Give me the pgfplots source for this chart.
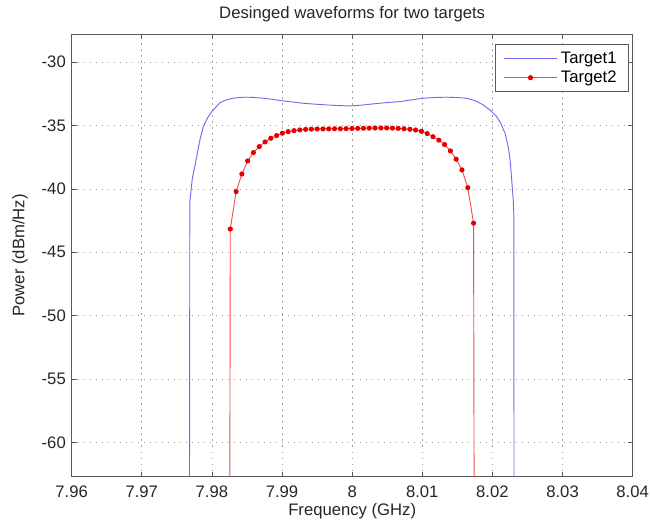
\documentclass[border=0pt]{standalone}
\usepackage{fontspec}
\setmainfont{Liberation Sans}
\usepackage{pgfplots}
\pgfplotsset{compat=1.18}
\definecolor{tgtblue}{rgb}{0.42,0.42,0.93}
\definecolor{tgtred}{rgb}{0.95,0.30,0.30}
\definecolor{frame}{gray}{0.35}

\begin{document}
\begin{tikzpicture}
\begin{axis}[
    name=ax,
    scale only axis,
    width=336.6pt,
    height=265.4pt,
    xmin=7.96, xmax=8.04,
    ymin=-62.7, ymax=-27.8,
    xtick={7.96,7.97,7.98,7.99,8,8.01,8.02,8.03,8.04},
    ytick={-60,-55,-50,-45,-40,-35,-30},
    /pgf/number format/assume math mode=true,
    /pgf/number format/precision=2,
    tick align=inside,
    major tick length=3pt,
    tick style={frame, line width=0.5pt},
    axis line style={frame, line width=0.6pt},
    grid=major,
    major grid style={gray!75, line width=0.5pt, dash pattern=on 0.7pt off 2.9pt},
    font=\fontsize{10}{12}\selectfont,
    tick label style={font=\fontsize{10}{12}\selectfont, text=black!85},
    xticklabel style={yshift=-2pt},
    title={Desinged waveforms for two targets},
    title style={at={([yshift=6pt]axis description cs:0.5,1)}, anchor=center, text=black!85},
    xlabel={Frequency (GHz)},
    xlabel style={at={([yshift=-21pt]axis description cs:0.5,0)}, anchor=center, text=black!85},
    ylabel={Power (dBm/Hz)},
    ylabel style={at={([xshift=-31pt]axis description cs:0,0.5)}, anchor=center, text=black!85},
    legend cell align=left,
    legend style={
        at={(rel axis cs:0.993,0.977)},
        anchor=north east,
        draw=frame,
        line width=0.6pt,
        fill=white,
        inner xsep=5pt,
        inner ysep=2pt,
        row sep=-1pt,
        font=\fontsize{10}{12}\selectfont,
    },
    legend image code/.code={%
        \draw[mark repeat=2, mark phase=2, #1]
            plot coordinates {(0pt,0pt) (16pt,0pt) (32pt,0pt)};
    },
]

% Target1
\addplot[tgtblue, line width=0.55pt] coordinates {
    (7.97677,-80) (7.97685,-41.0) (7.97720,-39.2) (7.97783,-37.45)
    (7.97830,-36.1) (7.97877,-35.08) (7.97937,-34.4) (7.97997,-33.9)
    (7.98115,-33.19) (7.98200,-32.98) (7.98305,-32.84) (7.98400,-32.78)
    (7.98496,-32.76) (7.98600,-32.78) (7.98733,-32.84) (7.98860,-32.93)
    (7.98995,-33.03) (7.99150,-33.14) (7.99303,-33.24) (7.99470,-33.31)
    (7.99636,-33.37) (7.99800,-33.42) (7.99969,-33.45) (8.00150,-33.38)
    (8.00300,-33.29) (8.00500,-33.18) (8.00682,-33.11) (8.00850,-32.97)
    (8.01014,-32.84) (8.01180,-32.78) (8.01347,-32.76) (8.01500,-32.79)
    (8.01632,-32.84) (8.01760,-33.05) (8.01870,-33.37) (8.01970,-33.8)
    (8.02061,-34.29) (8.02125,-34.9) (8.02179,-35.6) (8.02215,-36.4)
    (8.02240,-37.18) (8.02260,-38.2) (8.02275,-39.3) (8.02297,-40.87)
    (8.02305,-42.0) (8.02310,-80)
};
\addlegendentry{Target1}

% Target2
\addplot[tgtred, line width=0.55pt, mark=*, mark size=1.25pt,
    mark options={fill=red!90!black, draw=red!90!black}] coordinates {
    (7.98250,-80)
    (7.98262,-43.16) (7.98345,-40.21) (7.98427,-38.82) (7.98510,-37.79)
    (7.98592,-37.13) (7.98675,-36.66) (7.98758,-36.29) (7.98840,-36.00)
    (7.98923,-35.79) (7.99005,-35.60) (7.99088,-35.48) (7.99171,-35.40)
    (7.99253,-35.34) (7.99336,-35.30) (7.99418,-35.28) (7.99501,-35.27)
    (7.99584,-35.26) (7.99666,-35.26) (7.99749,-35.25) (7.99831,-35.25)
    (7.99914,-35.24) (7.99997,-35.23) (8.00079,-35.22) (8.00162,-35.21)
    (8.00244,-35.20) (8.00327,-35.19) (8.00410,-35.19) (8.00492,-35.19)
    (8.00575,-35.20) (8.00657,-35.22) (8.00740,-35.25) (8.00823,-35.29)
    (8.00905,-35.35) (8.00988,-35.45) (8.01070,-35.63) (8.01153,-35.88)
    (8.01236,-36.15) (8.01318,-36.50) (8.01401,-37.00) (8.01483,-37.65)
    (8.01566,-38.50) (8.01649,-39.90) (8.01731,-42.70)
    (8.01745,-80)
};
\addlegendentry{Target2}

\coordinate (bl) at (rel axis cs:0,0);
\coordinate (tr) at (rel axis cs:1,1);
\end{axis}
\pgfresetboundingbox
\path ([shift={(-43pt,-29.6pt)}]bl) rectangle ([shift={(10.4pt,20.6pt)}]tr);
\end{tikzpicture}
\end{document}
